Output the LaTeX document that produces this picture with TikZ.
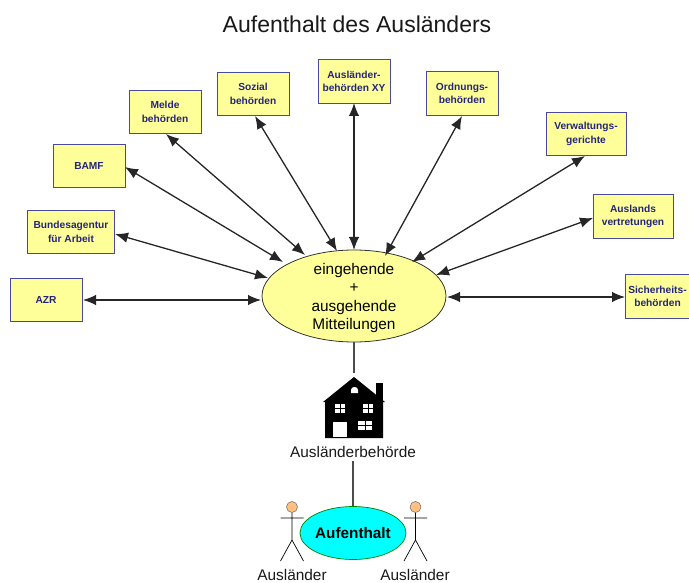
\documentclass[tikz,border=0pt]{standalone}
\usepackage{fontspec}
\setmainfont{Liberation Sans}
\usetikzlibrary{arrows.meta,shapes.geometric}
\definecolor{boxfill}{HTML}{FFFF99}
\definecolor{boxedge}{HTML}{4A4A9C}
\definecolor{boxtext}{HTML}{24247F}
\definecolor{ellfill}{HTML}{FFFF99}
\definecolor{ellcyan}{HTML}{00FFFF}
\definecolor{headfill}{HTML}{FFC080}
\tikzset{
  x=1pt,y=-1pt,
  agency/.style={draw=boxedge,line width=1pt,fill=boxfill,minimum width=#1,minimum height=43.5pt,inner sep=0pt,align=center,text=boxtext,font=\fontsize{10.2}{13.4}\selectfont\bfseries},
  agency/.default=72pt,
  link/.style={line width=1.3pt,draw=black!85,{Latex[length=13pt,width=10.5pt]}-{Latex[length=13pt,width=10.5pt]}},
  plain/.style={line width=1.3pt,draw=black!70},
  label/.style={font=\fontsize{15.4}{17}\selectfont,text=black!90,inner sep=0pt},
  stick/.style={line width=.7pt,draw=black},
}
\begin{document}
\begin{tikzpicture}
\useasboundingbox (0,0) rectangle (689,583);
\node[font=\fontsize{23}{26}\selectfont,text=black!90,inner sep=0pt] (title) at (357,24) {Aufenthalt des Ausländers};
\node[agency] (azr) at (46,300) {AZR};
\node[agency=87pt] (ba) at (71,232) {Bundesagentur\\für Arbeit};
\node[agency] (bamf) at (89,166) {BAMF};
\node[agency] (melde) at (165,112) {Melde\\behörden};
\node[agency] (sozial) at (253,94) {Sozial\\behörden};
\node[agency] (xy) at (354,81.5) {Ausländer-\\behörden XY};
\node[agency] (ord) at (462,93.5) {Ordnungs-\\behörden};
\node[agency=80pt] (verw) at (586,134) {Verwaltungs-\\gerichte};
\node[agency=80pt] (ausl) at (633,216.5) {Auslands\\vertretungen};
\node[agency=64pt] (sich) at (657.5,296.5) {Sicherheits-\\behörden};
\node[draw=black!80,line width=.8pt,fill=ellfill,ellipse,minimum width=184pt,minimum height=92pt,inner sep=-5pt,align=center,font=\fontsize{15.4}{18.4}\selectfont] (ein) at (354,296) {\rule{0pt}{15pt}eingehende\\+\\ausgehende\\Mitteilungen};
\coordinate (e1) at (261,300);
\coordinate (e2) at (268,278);
\coordinate (e3) at (283,262);
\coordinate (e4) at (305,255);
\coordinate (e5) at (337,251);
\coordinate (e6) at (354,250);
\coordinate (e7) at (385,256);
\coordinate (e8) at (412,262);
\coordinate (e9) at (436,275);
\coordinate (e10) at (447,297);
\coordinate (a1) at (83,300);
\coordinate (a2) at (115,234);
\coordinate (a3) at (125,167);
\coordinate (a4) at (166,134);
\coordinate (a5) at (255,116);
\coordinate (a6) at (354,103);
\coordinate (a7) at (462,116);
\coordinate (a8) at (585,156);
\coordinate (a9) at (593,218);
\coordinate (a10) at (625,297);
\foreach \i in {1,...,10} \draw[link] (a\i) -- (e\i);
% house
\fill[black] (354,377) -- (385,402) -- (383,402) -- (383,438) -- (325,438) -- (325,402) -- (323,402) -- cycle;
\fill[black] (376,383) rectangle (383,400);
\fill[white] (333,422) rectangle (347,437);
\foreach \wx/\wy/\ww/\wh in {335/404/10/9, 363/404/10/9, 358/421/14/9}{
  \fill[white] (\wx,\wy) rectangle ++(\ww,\wh);
  \draw[black,line width=.8pt] (\wx+\ww/2,\wy) -- ++(0,\wh) (\wx,\wy+\wh/2) -- ++(\ww,0);
}
\fill[white] (351,393) -- (351,390) .. controls (351,386) and (358,386) .. (358,390) -- (358,393) -- cycle;
\coordinate (hometop) at (354,373);
\coordinate (homebot) at (353,461);
\node[label] (behoerde) at (353,452) {Ausländerbehörde};
\draw[plain] (ein.south) -- (hometop);
\node[draw=black!50!green,line width=.7pt,fill=ellcyan,ellipse,minimum width=106pt,minimum height=53pt,inner sep=-3pt,font=\fontsize{15.3}{17}\selectfont\bfseries] (auf) at (353,533) {Aufenthalt};
\draw[plain] (homebot) -- (auf.north);
% figures
\foreach \px/\nm in {292/l,415.5/r}{
  \node[circle,draw=black!60,line width=.5pt,fill=headfill,minimum size=11pt,inner sep=0pt] (h\nm) at (\px,507) {};
  \draw[stick] (h\nm.south) -- (\px,540) (\px-11.5,518) -- (\px+11.5,518) (\px-11.5,561) -- (\px,540) -- (\px+11.5,561);
}
\node[label] (l1) at (292,575) {Ausländer};
\node[label] (l2) at (415,575) {Ausländer};
\end{tikzpicture}
\end{document}
